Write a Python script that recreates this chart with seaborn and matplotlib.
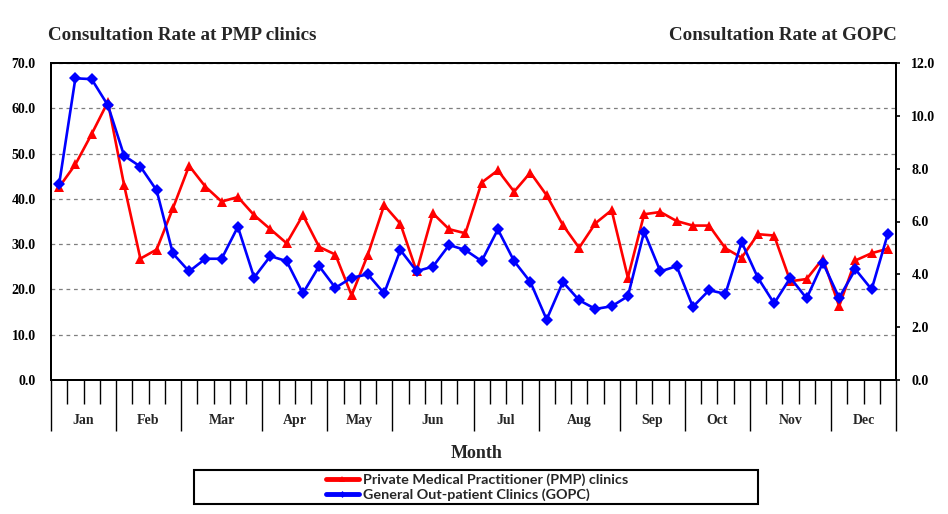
import matplotlib
matplotlib.use('Agg')
import matplotlib.pyplot as plt
import matplotlib.transforms as mtransforms
from matplotlib.lines import Line2D
from matplotlib.patches import Rectangle
import seaborn as sns
import numpy as np

months = ["Jan", "Feb", "Mar", "Apr", "May", "Jun", "Jul", "Aug", "Sep", "Oct", "Nov", "Dec"]
weeks_per_month = [4, 4, 5, 4, 4, 5, 4, 5, 4, 4, 5, 4]

pmp = [42.6, 47.6, 54.3, 61.4, 43.0, 26.8, 28.8, 37.9, 47.3, 42.7, 39.4, 40.4, 36.4,
       33.3, 30.2, 36.4, 29.4, 27.7, 18.7, 27.7, 38.6, 34.5, 24.0, 36.8, 33.3, 32.4,
       43.6, 46.3, 41.6, 45.8, 40.8, 34.2, 29.2, 34.6, 37.5, 22.6, 36.6, 37.1, 35.1,
       34.1, 34.1, 29.1, 27.0, 32.2, 31.9, 21.8, 22.3, 26.8, 16.3, 26.4, 28.0, 29.0]
gopc = [7.41, 11.42, 11.39, 10.40, 8.49, 8.08, 7.18, 4.79, 4.11, 4.59, 4.59, 5.80, 3.88,
        4.69, 4.50, 3.28, 4.31, 3.49, 3.87, 4.00, 3.28, 4.92, 4.12, 4.29, 5.11, 4.92,
        4.50, 5.70, 4.50, 3.71, 2.29, 3.71, 3.02, 2.69, 2.79, 3.17, 5.61, 4.11, 4.31,
        2.77, 3.40, 3.26, 5.22, 3.87, 2.90, 3.87, 3.09, 4.44, 3.11, 4.19, 3.43, 5.54]

left_ticks = [0, 10, 20, 30, 40, 50, 60, 70]
right_ticks = [0, 2, 4, 6, 8, 10, 12]

title_left = "Consultation Rate at PMP clinics"
title_right = "Consultation Rate at GOPC"
xlabel = "Month"
label_pmp = "Private Medical Practitioner (PMP) clinics"
label_gopc = "General Out-patient Clinics (GOPC)"

sns.set_theme(style="white")
plt.rcParams['font.family'] = ['Liberation Serif', 'DejaVu Serif']

W, H = 948, 514
fig = plt.figure(figsize=(W / 100, H / 100), dpi=100)
ax = fig.add_axes([51 / W, 1 - 380 / H, 845 / W, 317 / H])

week = np.arange(len(pmp))
sns.lineplot(x=week, y=pmp, ax=ax, color='#ff0000', linewidth=1.9,
             marker='^', markersize=7, markeredgewidth=0, zorder=3)
ax2 = ax.twinx()
sns.lineplot(x=week, y=gopc, ax=ax2, color='#0000ff', linewidth=1.9,
             marker='D', markersize=5.8, markeredgewidth=0, zorder=3)

ax.set_xlim(-0.5, len(pmp) - 0.5)
ax.set_ylim(0, 70)
ax2.set_ylim(0, 12)
ax.set_xlabel("")
ax.set_ylabel("")
ax2.set_ylabel("")

ax.set_yticks(left_ticks)
ax.set_yticklabels([f"{v:.1f}" for v in left_ticks], fontsize=10, fontweight='bold')
ax2.set_yticks(right_ticks)
ax2.set_yticklabels([f"{v:.1f}" for v in right_ticks], fontsize=10, fontweight='bold')
ax.tick_params(axis='y', length=0, pad=11, colors='black')
ax2.tick_params(axis='y', length=3, width=1.2, pad=8, direction='out', colors='black', right=True)

# x ticks: month boundaries (long) and week boundaries (short)
bounds = np.cumsum([0] + weeks_per_month) - 0.5
week_bounds = [b for b in np.arange(0.5, len(pmp) - 0.5, 1.0) if not np.any(np.isclose(bounds, b))]
ax.set_xticks(bounds)
ax.set_xticklabels([])
ax.set_xticks(week_bounds, minor=True)
ax.tick_params(axis='x', which='major', length=37, width=1, color='black', direction='out', bottom=True)
ax.tick_params(axis='x', which='minor', length=17.5, width=1, color='black', direction='out', bottom=True)

trans = mtransforms.blended_transform_factory(ax.transData, ax.transAxes)
for i, m in enumerate(months):
    c = (bounds[i] + bounds[i + 1]) / 2
    ax.text(c, -0.129, m, transform=trans, ha='center', va='center',
            fontsize=10, fontweight='bold')

ax.yaxis.grid(True, linestyle=(0, (3, 3)), color='#7f7f7f', linewidth=0.9)
ax.xaxis.grid(False)
ax2.grid(False)

for a in (ax, ax2):
    for s in a.spines.values():
        s.set_color('black')
        s.set_linewidth(1.4)
        s.set_visible(True)

fig.text(48 / W, 1 - 36 / H, title_left, ha='left', va='center', fontsize=13.7, fontweight='bold')
fig.text(897 / W, 1 - 36 / H, title_right, ha='right', va='center', fontsize=13.7, fontweight='bold')
fig.text(477 / W, 1 - 454 / H, xlabel, ha='center', va='center', fontsize=13, fontweight='bold')

fig.add_artist(Rectangle((194 / W, 1 - 504 / H), 564 / W, 34 / H, transform=fig.transFigure,
                         fill=False, edgecolor='black', linewidth=1.5))
handles = [Line2D([], [], color='#ff0000', lw=3.5, marker='^', markersize=5, markeredgewidth=0),
           Line2D([], [], color='#0000ff', lw=3.5, marker='D', markersize=3.5, markeredgewidth=0)]
fig.legend(handles, [label_pmp, label_gopc], loc='center', bbox_to_anchor=(477 / W, 1 - 487 / H),
           frameon=False, prop={'family': 'Lato', 'weight': 'bold', 'size': 10.4},
           handlelength=2.3, handletextpad=0.3, labelspacing=0.15, borderpad=0, numpoints=1)

fig.savefig('out.png', dpi=100)
